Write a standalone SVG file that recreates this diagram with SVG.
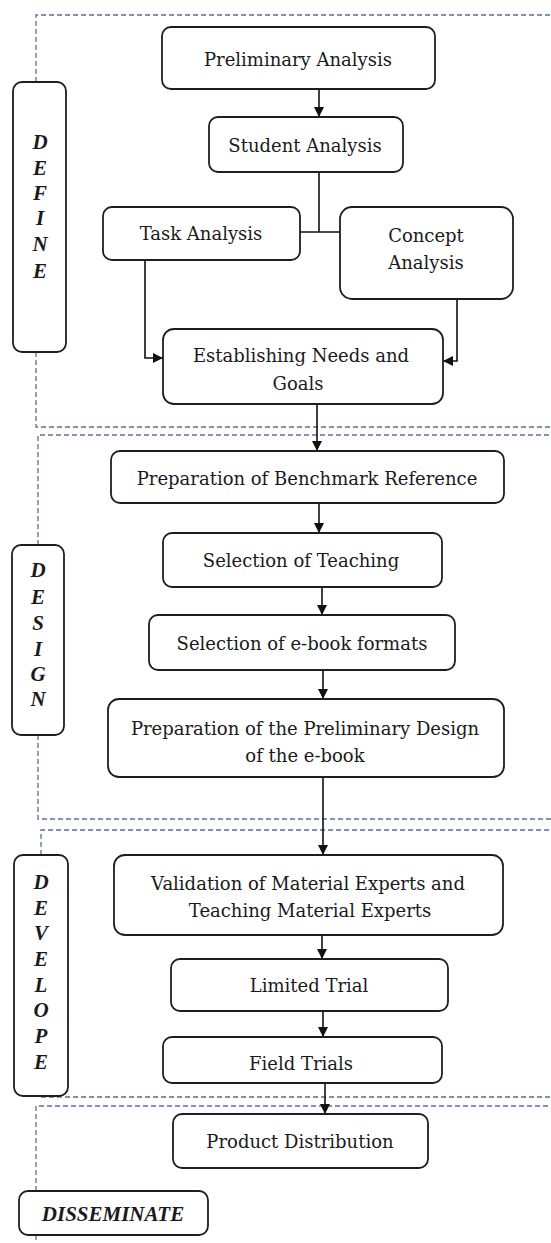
<svg xmlns="http://www.w3.org/2000/svg" width="551" height="1243" viewBox="0 0 551 1243">
<style>
.box{fill:#fff;stroke:#1e1e1e;stroke-width:1.8}
.t{font-family:"DejaVu Serif","Liberation Serif",serif;font-size:18px;fill:#1a1a1a;text-anchor:middle;dominant-baseline:central}
.lb{font-family:"Liberation Serif",serif;font-size:21px;font-weight:bold;font-style:italic;fill:#1a1a1a;text-anchor:middle;dominant-baseline:central}
.dash{fill:none;stroke:#5a6f98;stroke-width:1.3;stroke-dasharray:5 3}
.con{fill:none;stroke:#111;stroke-width:1.6}
</style>
<defs>
<marker id="ah" viewBox="0 0 10 10" refX="10" refY="5" markerWidth="10" markerHeight="10" markerUnits="userSpaceOnUse" orient="auto">
<path d="M0,0 L10,5 L0,10 z" fill="#111"/>
</marker>
</defs>
<g id="dashed">
<path class="dash" d="M36 82 V15 H551"/>
<path class="dash" d="M36 352 V427 H551"/>
<path class="dash" d="M38 545 V435 H551"/>
<path class="dash" d="M38 735 V819 H551"/>
<path class="dash" d="M41 855 V830 H551"/>
<path class="dash" d="M41 1097 H551"/>
<path class="dash" d="M36 1191 V1106 H551"/>
<path class="dash" d="M36 1235 V1243"/>
</g>
<g id="connectors">
<path class="con" d="M319 89 V117" marker-end="url(#ah)"/>
<path class="con" d="M319 172 V232 M300 232 H340"/>
<path class="con" d="M145 260 V358 H163" marker-end="url(#ah)"/>
<path class="con" d="M457 299 V361 H443" marker-end="url(#ah)"/>
<path class="con" d="M317 404 V451" marker-end="url(#ah)"/>
<path class="con" d="M319 503 V533" marker-end="url(#ah)"/>
<path class="con" d="M322 587 V615" marker-end="url(#ah)"/>
<path class="con" d="M323 670 V699" marker-end="url(#ah)"/>
<path class="con" d="M323 777 V855" marker-end="url(#ah)"/>
<path class="con" d="M322 935 V959" marker-end="url(#ah)"/>
<path class="con" d="M323 1011 V1037" marker-end="url(#ah)"/>
<path class="con" d="M325 1083 V1114" marker-end="url(#ah)"/>
</g>
<g id="define">
<rect class="box" x="13" y="82" width="53" height="270" rx="9"/>
<text class="lb" x="40" y="142">D</text>
<text class="lb" x="40" y="168">E</text>
<text class="lb" x="40" y="193">F</text>
<text class="lb" x="40" y="218">I</text>
<text class="lb" x="40" y="244">N</text>
<text class="lb" x="40" y="271">E</text>
</g>
<g id="design">
<rect class="box" x="12" y="545" width="52" height="190" rx="9"/>
<text class="lb" x="38" y="570">D</text>
<text class="lb" x="38" y="597">E</text>
<text class="lb" x="38" y="623">S</text>
<text class="lb" x="38" y="649">I</text>
<text class="lb" x="38" y="674">G</text>
<text class="lb" x="38" y="699">N</text>
</g>
<g id="develope">
<rect class="box" x="14" y="855" width="54" height="241" rx="9"/>
<text class="lb" x="41" y="882">D</text>
<text class="lb" x="41" y="908">E</text>
<text class="lb" x="41" y="933">V</text>
<text class="lb" x="41" y="959">E</text>
<text class="lb" x="41" y="985">L</text>
<text class="lb" x="41" y="1010">O</text>
<text class="lb" x="41" y="1036">P</text>
<text class="lb" x="41" y="1062">E</text>
</g>
<g id="disseminate">
<rect class="box" x="19" y="1191" width="189" height="44" rx="9"/>
<text class="lb" x="113" y="1214">DISSEMINATE</text>
</g>
<g id="preliminary-analysis">
<rect class="box" x="162" y="27" width="273" height="62" rx="9"/>
<text class="t" x="298" y="59">Preliminary Analysis</text>
</g>
<g id="student-analysis">
<rect class="box" x="209" y="117" width="194" height="55" rx="9"/>
<text class="t" x="305" y="145">Student Analysis</text>
</g>
<g id="task-analysis">
<rect class="box" x="103" y="207" width="197" height="53" rx="9"/>
<text class="t" x="201" y="233">Task Analysis</text>
</g>
<g id="concept-analysis">
<rect class="box" x="340" y="207" width="173" height="92" rx="12"/>
<text class="t" x="426" y="235">Concept</text>
<text class="t" x="426" y="262">Analysis</text>
</g>
<g id="establishing">
<rect class="box" x="163" y="329" width="280" height="75" rx="11"/>
<text class="t" x="301" y="355">Establishing Needs and</text>
<text class="t" x="298" y="383">Goals</text>
</g>
<g id="benchmark">
<rect class="box" x="111" y="451" width="393" height="52" rx="9"/>
<text class="t" x="307" y="478">Preparation of Benchmark Reference</text>
</g>
<g id="selection-teaching">
<rect class="box" x="163" y="533" width="279" height="54" rx="9"/>
<text class="t" x="301" y="560">Selection of Teaching</text>
</g>
<g id="selection-ebook">
<rect class="box" x="149" y="615" width="306" height="55" rx="9"/>
<text class="t" x="302" y="643">Selection of e-book formats</text>
</g>
<g id="preliminary-design">
<rect class="box" x="108" y="699" width="396" height="78" rx="11"/>
<text class="t" x="305" y="728">Preparation of the Preliminary Design</text>
<text class="t" x="305" y="755">of the e-book</text>
</g>
<g id="validation">
<rect class="box" x="114" y="855" width="389" height="80" rx="11"/>
<text class="t" x="308" y="883">Validation of Material Experts and</text>
<text class="t" x="310" y="910">Teaching Material Experts</text>
</g>
<g id="limited-trial">
<rect class="box" x="171" y="959" width="277" height="52" rx="9"/>
<text class="t" x="309" y="985">Limited Trial</text>
</g>
<g id="field-trials">
<rect class="box" x="163" y="1037" width="279" height="46" rx="9"/>
<text class="t" x="301" y="1063">Field Trials</text>
</g>
<g id="product-distribution">
<rect class="box" x="173" y="1114" width="255" height="54" rx="9"/>
<text class="t" x="300" y="1141">Product Distribution</text>
</g>
</svg>
